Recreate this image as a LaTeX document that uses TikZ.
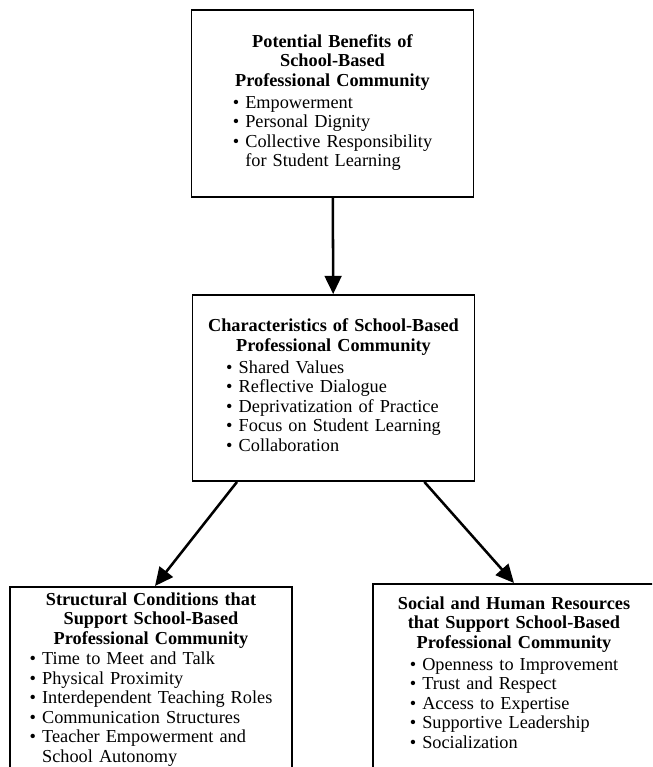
\documentclass[tikz,border=0pt]{standalone}
\usepackage{fontspec}
\setmainfont{Liberation Serif}
\usetikzlibrary{arrows.meta,calc}

\begin{document}
\begin{tikzpicture}[x=0.025cm, y=-0.025cm,
    box/.style={rectangle, draw=black, line width=1.3pt, fill=white,
        minimum width=7.05cm, text width=6.6cm, align=center,
        inner sep=4pt, font=\fontsize{13}{13.9}\selectfont},
    openbox/.style={box, anchor=north, text depth=5cm},
    arr/.style={-{Triangle[length=13pt,width=12pt]}, line width=1.8pt, black}
]
    \useasboundingbox (0,0) rectangle (652,767);
    \clip (0,0) rectangle (652,767);

    % Boxes
    \node[box, minimum height=4.675cm] (benefits) at (332.5,103.5)
        {\textbf{Potential Benefits of}\\\textbf{School-Based}\\\textbf{Professional Community}\\[2pt]
         \begin{tabular}{@{}l@{\ }l@{}}
         \textbullet & Empowerment\\
         \textbullet & Personal Dignity\\
         \textbullet & Collective Responsibility\\
                     & for Student Learning
         \end{tabular}};
    \node[box, minimum height=4.65cm] (traits) at (333.5,388)
        {\textbf{Characteristics of School-Based}\\\textbf{Professional Community}\\[2pt]
         \begin{tabular}{@{}l@{\ }l@{}}
         \textbullet & Shared Values\\
         \textbullet & Reflective Dialogue\\
         \textbullet & Deprivatization of Practice\\
         \textbullet & Focus on Student Learning\\
         \textbullet & Collaboration
         \end{tabular}};
    \node[openbox] (structural) at (151,586)
        {\textbf{Structural Conditions that}\\\textbf{Support School-Based}\\\textbf{Professional Community}\\[1pt]
         \begin{tabular}{@{}l@{\ }l@{}}
         \textbullet & Time to Meet and Talk\\
         \textbullet & Physical Proximity\\
         \textbullet & Interdependent Teaching Roles\\
         \textbullet & Communication Structures\\
         \textbullet & Teacher Empowerment and\\
                     & School Autonomy
         \end{tabular}};
    \node[openbox, inner ysep=9pt] (resources) at (514,583)
        {\textbf{Social and Human Resources}\\\textbf{that Support School-Based}\\\textbf{Professional Community}\\[2pt]
         \begin{tabular}{@{}l@{\ }l@{}}
         \textbullet & Openness to Improvement\\
         \textbullet & Trust and Respect\\
         \textbullet & Access to Expertise\\
         \textbullet & Supportive Leadership\\
         \textbullet & Socialization
         \end{tabular}};

    % Arrows
    \draw[arr] (benefits) -- (traits);
    \draw[arr] ($(traits.south west)!0.16!(traits.south east)$) -- ($(structural.north)+(4,0)$);
    \draw[arr] ($(traits.south west)!0.82!(traits.south east)$) -- (resources.north);
\end{tikzpicture}
\end{document}
